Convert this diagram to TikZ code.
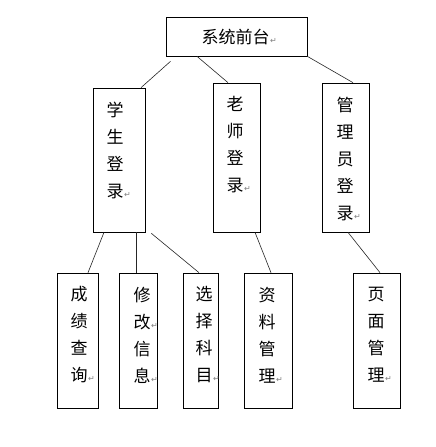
\documentclass[tikz,border=0pt]{standalone}
\usepackage{fontspec}
\newfontfamily\cjk{Noto Sans CJK SC}
\newfontfamily\symf{DejaVu Sans}
\usetikzlibrary{calc}
\newcommand{\rmk}{\rlap{\kern0.5pt\textcolor{gray}{\symf\fontsize{8}{8}\selectfont ↵}}}
\tikzset{
  box/.style={draw=black, line width=0.7pt, inner sep=0pt},
  vtxt/.style={align=center, inner sep=0pt, font={\cjk\fontsize{17}{27}\selectfont}},
  conn/.style={draw=black!85, line width=0.6pt},
}
\begin{document}
\begin{tikzpicture}[x=1pt,y=-1pt]
\useasboundingbox[fill=white] (0,0) rectangle (436,447);
% boxes
\node[box, minimum width=141pt, minimum height=39pt] (top) at (236.5,36.5) {};
\node[box, minimum width=52pt, minimum height=144pt] (stu) at (119,160) {};
\node[box, minimum width=47pt, minimum height=149pt] (tea) at (236.5,157.5) {};
\node[box, minimum width=47pt, minimum height=149pt] (adm) at (345.5,157.5) {};
\node[box, minimum width=41pt, minimum height=135pt] (cj) at (77.5,340.5) {};
\node[box, minimum width=38pt, minimum height=135pt] (xg) at (138,340.5) {};
\node[box, minimum width=35pt, minimum height=135pt] (xz) at (200.5,340.5) {};
\node[box, minimum width=48pt, minimum height=135pt] (zl) at (268,340.5) {};
\node[box, minimum width=47pt, minimum height=135pt] (ym) at (376.5,340.5) {};
% texts
\node[vtxt] (ttop) at (235.5,37) {系统前台\rmk};
\node[vtxt] (tstu) at (115,150) {学\\生\\登\\录\rmk};
\node[vtxt] (ttea) at (235,145) {老\\师\\登\\录\rmk};
\node[vtxt] (tadm) at (345,159) {管\\理\\员\\登\\录\rmk};
\node[vtxt] (tcj) at (79,335) {成\\绩\\查\\询\rmk};
\node[vtxt] (txg) at (142,335) {修\\改\rmk\\信\\息\rmk};
\node[vtxt] (txz) at (204,335) {选\\择\\科\\目\rmk};
\node[vtxt] (tzl) at (267,335) {资\\料\\管\\理\rmk};
\node[vtxt] (tym) at (376,335) {页\\面\\管\\理\rmk};
% connectors
\draw[conn] ([xshift=-66pt,yshift=-5pt]top.south) -- ([xshift=22pt]stu.north);
\draw[conn] ([xshift=-39.5pt]top.south) -- ([xshift=-8.5pt]tea.north);
\draw[conn] (top.south east) -- ([xshift=7.5pt]adm.north);
\draw[conn] ([xshift=-15pt]stu.south) -- ([xshift=10.5pt]cj.north);
\draw[conn] ([xshift=17pt]stu.south) -- ([xshift=-2pt]xg.north);
\draw[conn] ([xshift=6pt,yshift=-1pt]stu.south east) -- ([xshift=-1.5pt]xz.north);
\draw[conn] ([xshift=18.5pt]tea.south) -- ([xshift=3pt]zl.north);
\draw[conn] ([xshift=2.5pt]adm.south) -- ([xshift=3.5pt]ym.north);
\end{tikzpicture}
\end{document}
